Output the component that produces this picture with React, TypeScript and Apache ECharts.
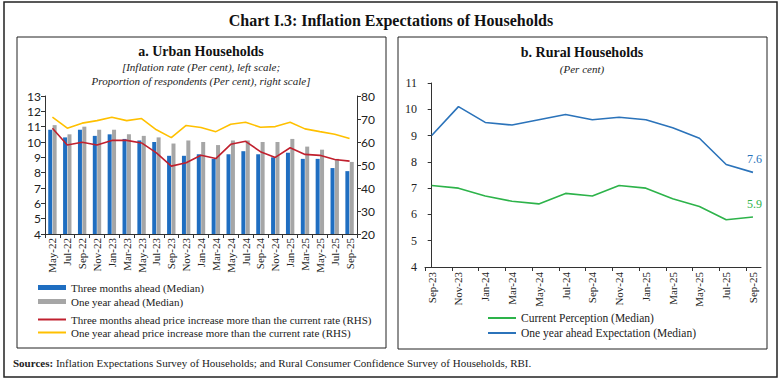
import React, { useEffect, useRef } from 'react';
import * as echarts from 'echarts';

const urbanCats = ['May-22','Jul-22','Sep-22','Nov-22','Jan-23','Mar-23','May-23','Jul-23','Sep-23','Nov-23','Jan-24','Mar-24','May-24','Jul-24','Sep-24','Nov-24','Jan-25','Mar-25','May-25','Jul-25','Sep-25'];
const threeMonthMedian = [10.8,10.3,10.8,10.4,10.5,10.2,10.1,10.0,9.1,9.1,9.2,8.9,9.2,9.4,9.2,9.0,9.3,8.9,8.9,8.3,8.1];
const oneYearMedian = [11.1,10.5,11.0,10.8,10.8,10.5,10.4,10.3,9.9,10.1,10.0,9.8,10.1,10.1,10.0,10.0,10.2,9.7,9.5,8.9,8.7];
const threeMonthShare = [66.0,58.7,59.9,58.7,60.7,60.7,59.6,55.3,49.5,51.0,54.2,52.8,59.0,60.3,55.8,53.3,57.5,54.6,54.2,52.4,51.7];
const oneYearShare = [70.8,66.0,68.2,69.3,70.8,69.3,70.2,65.3,61.9,67.2,66.3,64.5,67.7,68.6,66.4,66.7,68.6,65.7,64.5,63.4,61.5];

const ruralCats = ['Sep-23','Nov-23','Jan-24','Mar-24','May-24','Jul-24','Sep-24','Nov-24','Jan-25','Mar-25','May-25','Jul-25','Sep-25'];
const currentPerception = [7.1,7.0,6.7,6.5,6.4,6.8,6.7,7.1,7.0,6.6,6.3,5.8,5.9];
const oneYearExpectation = [9.0,10.1,9.5,9.4,9.6,9.8,9.6,9.7,9.6,9.3,8.9,7.9,7.6];

const SERIF = '"Liberation Serif", "DejaVu Serif", serif';
const SANS = 'Lato, "Liberation Sans", sans-serif';
const AXIS = '#333';
const TXT = '#222';

const C_BLUE = '#1F6EC1';
const C_GRAY = '#A6A6A6';
const C_RED = '#C0202E';
const C_YEL = '#FFC000';
const C_GREEN = '#2DB34A';
const C_RBLUE = '#2B73BA';

export default function App() {
  const ref = useRef<HTMLDivElement>(null);
  useEffect(() => {
    document.body.style.margin = '0';
    const chart = echarts.init(ref.current!, null, { renderer: 'svg' });
    const ruralIdx = ruralCats.map((_, i) => i);
    const option: any = {
      animation: false,
      backgroundColor: '#fff',
      textStyle: { fontFamily: SERIF, color: TXT },
      graphic: [
        { type: 'rect', shape: { x: 4, y: 2, width: 773, height: 375 }, style: { fill: 'none', stroke: '#222', lineWidth: 1.5 }, silent: true },
        { type: 'rect', shape: { x: 17, y: 37, width: 369, height: 311 }, style: { fill: 'none', stroke: '#222', lineWidth: 1 }, silent: true },
        { type: 'rect', shape: { x: 398, y: 37, width: 369, height: 312 }, style: { fill: 'none', stroke: '#222', lineWidth: 1 }, silent: true },
        { type: 'text', x: 391, y: 20, style: { text: 'Chart I.3: Inflation Expectations of Households', font: `bold 16px ${SERIF}`, fill: '#111', align: 'center', verticalAlign: 'middle' } },
        { type: 'text', x: 201, y: 51, style: { text: 'a. Urban Households', font: `bold 14px ${SERIF}`, fill: '#111', align: 'center', verticalAlign: 'middle' } },
        { type: 'text', x: 201, y: 67, style: { text: '[Inflation rate (Per cent), left scale;', font: `italic 11px ${SERIF}`, fill: '#222', align: 'center', verticalAlign: 'middle' } },
        { type: 'text', x: 201, y: 81, style: { text: 'Proportion of respondents (Per cent), right scale]', font: `italic 11px ${SERIF}`, fill: '#222', align: 'center', verticalAlign: 'middle' } },
        { type: 'text', x: 582, y: 52, style: { text: 'b. Rural Households', font: `bold 14px ${SERIF}`, fill: '#111', align: 'center', verticalAlign: 'middle' } },
        { type: 'text', x: 582, y: 69, style: { text: '(Per cent)', font: `italic 11px ${SERIF}`, fill: '#222', align: 'center', verticalAlign: 'middle' } },
        { type: 'text', x: 13, y: 363, style: { text: '{b|Sources:} Inflation Expectations Survey of Households; and Rural Consumer Confidence Survey of Households, RBI.', font: `11px ${SERIF}`, fill: '#222', verticalAlign: 'middle', rich: { b: { fontWeight: 'bold', fontSize: 11, fontFamily: SERIF } } } },
      ],
      legend: [
        {
          data: ['Three months ahead (Median)', 'One year ahead (Median)'],
          orient: 'vertical', left: 33, top: 277, itemGap: 3, itemWidth: 28, itemHeight: 5, icon: 'rect',
          textStyle: { fontFamily: SERIF, fontSize: 11, color: TXT },
        },
        {
          data: ['Three months ahead price increase more than the current rate (RHS)', 'One year ahead price increase more than the current rate (RHS)'],
          orient: 'vertical', left: 33, top: 309, itemGap: 2, itemWidth: 28, itemHeight: 2, icon: 'rect',
          textStyle: { fontFamily: SERIF, fontSize: 11, color: TXT },
        },
        {
          data: ['Current Perception (Median)', 'One year ahead Expectation (Median)'],
          orient: 'vertical', left: 483, top: 307, itemGap: 3, itemWidth: 28, itemHeight: 2, icon: 'rect',
          textStyle: { fontFamily: SERIF, fontSize: 11.5, color: TXT },
        },
      ],
      grid: [
        { left: 45, width: 312, top: 96, height: 138 },
        { left: 425, width: 336, top: 83, height: 184 },
      ],
      xAxis: [
        {
          type: 'category', gridIndex: 0, data: urbanCats, boundaryGap: true,
          axisLine: { lineStyle: { color: AXIS } },
          axisTick: { show: true, length: 4, lineStyle: { color: AXIS } },
          axisLabel: { rotate: 90, interval: 0, fontSize: 11, fontFamily: SERIF, color: TXT, margin: 4 },
        },
        {
          type: 'value', gridIndex: 1, min: -0.25, max: 12.3,
          axisLine: { lineStyle: { color: AXIS } },
          axisTick: { show: true, length: 4, lineStyle: { color: AXIS }, customValues: ruralIdx.map((i) => i - 0.25) },
          axisLabel: { rotate: 90, fontSize: 11, fontFamily: SERIF, color: TXT, margin: 5, customValues: ruralIdx, formatter: (v: number) => ruralCats[Math.round(v)] ?? '' },
          splitLine: { show: false },
        },
      ],
      yAxis: [
        {
          type: 'value', gridIndex: 0, min: 4, max: 13, interval: 1,
          axisLine: { show: true, lineStyle: { color: AXIS } },
          axisTick: { show: true, length: 4, lineStyle: { color: AXIS } },
          axisLabel: { fontSize: 12, fontFamily: SANS, color: TXT, margin: 4 },
          splitLine: { show: false },
        },
        {
          type: 'value', gridIndex: 0, position: 'right', min: 20, max: 80, interval: 10,
          axisLine: { show: true, lineStyle: { color: AXIS } },
          axisTick: { show: true, length: 4, lineStyle: { color: AXIS } },
          axisLabel: { fontSize: 12, fontFamily: SANS, color: TXT, margin: 4 },
          splitLine: { show: false },
        },
        {
          type: 'value', gridIndex: 1, min: 4, max: 11, interval: 1,
          axisLine: { show: true, lineStyle: { color: AXIS } },
          axisTick: { show: true, length: 4, lineStyle: { color: AXIS } },
          axisLabel: { fontSize: 12, fontFamily: SERIF, color: TXT, margin: 8 },
          splitLine: { show: false },
        },
      ],
      series: [
        { name: 'Three months ahead (Median)', type: 'bar', xAxisIndex: 0, yAxisIndex: 0, data: threeMonthMedian, barWidth: 4, barGap: '10%', itemStyle: { color: C_BLUE } },
        { name: 'One year ahead (Median)', type: 'bar', xAxisIndex: 0, yAxisIndex: 0, data: oneYearMedian, barWidth: 4, barGap: '10%', itemStyle: { color: C_GRAY } },
        { name: 'Three months ahead price increase more than the current rate (RHS)', type: 'line', xAxisIndex: 0, yAxisIndex: 1, data: threeMonthShare, symbol: 'none', lineStyle: { color: C_RED, width: 1.6 }, itemStyle: { color: C_RED } },
        { name: 'One year ahead price increase more than the current rate (RHS)', type: 'line', xAxisIndex: 0, yAxisIndex: 1, data: oneYearShare, symbol: 'none', lineStyle: { color: C_YEL, width: 1.6 }, itemStyle: { color: C_YEL } },
        {
          name: 'Current Perception (Median)', type: 'line', xAxisIndex: 1, yAxisIndex: 2,
          data: currentPerception.map((v, i) => [i, v]), symbol: 'none', lineStyle: { color: C_GREEN, width: 1.6 }, itemStyle: { color: C_GREEN },
          endLabel: { show: true, formatter: (p: any) => String(p.value[1]), color: C_GREEN, fontSize: 12, fontFamily: SERIF, offset: [-14, -13] },
        },
        {
          name: 'One year ahead Expectation (Median)', type: 'line', xAxisIndex: 1, yAxisIndex: 2,
          data: oneYearExpectation.map((v, i) => [i, v]), symbol: 'none', lineStyle: { color: C_RBLUE, width: 1.6 }, itemStyle: { color: C_RBLUE },
          endLabel: { show: true, formatter: (p: any) => String(p.value[1]), color: C_RBLUE, fontSize: 12, fontFamily: SERIF, offset: [-14, -13] },
        },
      ],
    };
    chart.setOption(option);
    return () => chart.dispose();
  }, []);
  return <div ref={ref} style={{ width: 782, height: 382 }} />;
}
